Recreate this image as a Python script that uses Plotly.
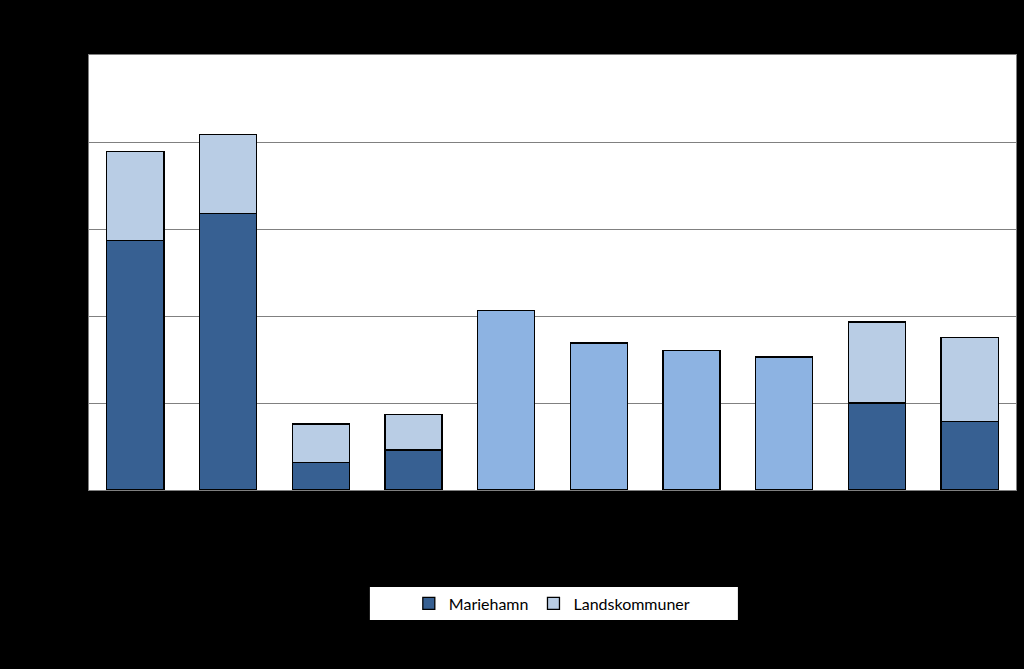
import plotly.graph_objects as go

categories = ["1", "2", "3", "4", "5", "6", "7", "8", "9", "10"]
mariehamn = [28.7, 31.8, 3.2, 4.6, None, None, None, None, 10.0, 7.9]
landskommuner = [10.2, 9.1, 4.4, 4.1, None, None, None, None, 9.3, 9.6]
totalt = [None, None, None, None, 20.6, 16.9, 16.0, 15.3, None, None]

line = dict(color="#000000", width=1.3)
fig = go.Figure()
fig.add_trace(go.Bar(x=categories, y=mariehamn, name="Mariehamn",
                     marker=dict(color="#376092", line=line)))
fig.add_trace(go.Bar(x=categories, y=landskommuner, name="Landskommuner",
                     marker=dict(color="#B9CDE5", line=line)))
fig.add_trace(go.Bar(x=categories, y=totalt, name="Totalt", showlegend=False,
                     marker=dict(color="#8DB3E2", line=line)))

fig.add_shape(type="rect", xref="paper", yref="paper",
              x0=0.303, x1=0.700, y0=-0.299, y1=-0.223,
              fillcolor="white", line=dict(width=0), layer="below")

fig.update_layout(
    width=1024, height=669,
    barmode="stack", bargap=0.385,
    paper_bgcolor="black", plot_bgcolor="white",
    margin=dict(l=89, r=8, t=55, b=179),
    font=dict(family="Lato", size=16, color="black"),
    showlegend=True,
    legend=dict(orientation="h", x=0.345, xanchor="left", y=-0.261, yanchor="middle",
                bgcolor="rgba(0,0,0,0)", traceorder="normal",
                font=dict(family="Lato", size=16, color="black")),
    xaxis=dict(showgrid=False, showline=True, linecolor="#808080", mirror=True,
               tickfont=dict(color="black")),
    yaxis=dict(range=[0, 50], dtick=10, showgrid=True, gridcolor="#808080", gridwidth=1,
               showline=True, linecolor="#808080", mirror=True, zeroline=False,
               tickfont=dict(color="black")),
)

fig.write_html("out.html", config={"displayModeBar": False},
               post_script="document.body.style.margin='0';document.body.style.background='black';")
